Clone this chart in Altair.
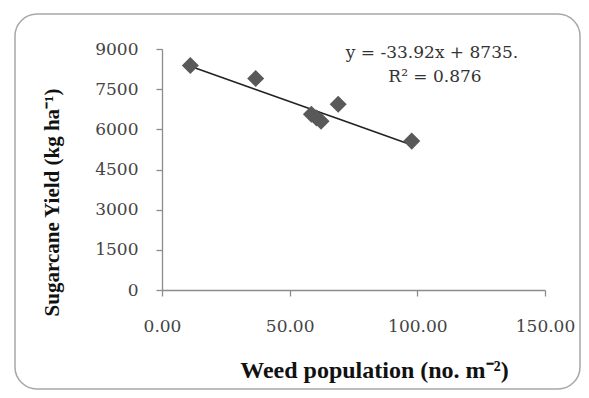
import altair as alt
import pandas as pd

# Data
weed = [11.1, 36.7, 58.5, 60.5, 62.3, 69.0, 97.8]
yield_kg = [8380, 7900, 6560, 6420, 6300, 6940, 5560]

slope = -33.92
intercept = 8735
r2 = 0.876

x_ticks = [0, 50, 100, 150]
y_ticks = [0, 1500, 3000, 4500, 6000, 7500, 9000]

df = pd.DataFrame({"weed": weed, "yield": yield_kg})

W, H = 383, 241
label_font = "DejaVu Serif"
title_font = "Liberation Serif"
axis_color = "#8c8c8c"

x_enc = alt.X(
    "weed:Q",
    scale=alt.Scale(domain=[0, 150], nice=False),
    axis=alt.Axis(
        values=x_ticks, format=".2f", grid=False, labelFlush=False,
        title="Weed population (no. m⁻²)",
        titleFont=title_font, titleFontSize=24, titleFontWeight="bold", titleColor="#111",
        titleX=212, titleY=80, titleAlign="center", titleBaseline="middle",
        labelFont=label_font, labelFontSize=17, labelColor="#444", labelPadding=22,
        domainColor=axis_color, tickColor=axis_color, tickSize=6, domainWidth=1.3, tickWidth=1.3,
    ),
)
y_enc = alt.Y(
    "yield:Q",
    scale=alt.Scale(domain=[0, 9000], nice=False),
    axis=alt.Axis(
        values=y_ticks, format="d", grid=False,
        title="Sugarcane Yield  (kg ha⁻¹)",
        titleFont=title_font, titleFontSize=21, titleFontWeight="bold", titleColor="#111",
        titleX=-110, titleY=153, titleAlign="center", titleBaseline="middle", titleAngle=-90,
        labelFont=label_font, labelFontSize=17, labelColor="#444", labelPadding=18,
        domainColor=axis_color, tickColor=axis_color, tickSize=6, domainWidth=1.3, tickWidth=1.3,
    ),
)

base = alt.Chart(df)

border = alt.Chart(pd.DataFrame({"k": [0]})).mark_rect(
    fill=None, stroke="#a8a8a8", strokeWidth=1.5, cornerRadius=22
).encode(
    x=alt.value(-147), x2=alt.value(418), y=alt.value(-35), y2=alt.value(340)
)

points = base.mark_point(
    shape="diamond", filled=True, size=290, color="#595959", opacity=1
).encode(x=x_enc, y=y_enc)

line = base.transform_calculate(
    fit=f"{slope}*datum.weed + {intercept}"
).mark_line(color="#222", strokeWidth=1.6).encode(
    x="weed:Q", y="fit:Q", order="weed:Q"
)

eq1 = alt.Chart(pd.DataFrame({"t": [f"y = {slope}x + {intercept}."]})).mark_text(
    font=label_font, fontSize=17, color="#333", align="center", baseline="middle"
).encode(text="t:N", x=alt.value(270), y=alt.value(4))

eq2 = alt.Chart(pd.DataFrame({"t": [f"R² = {r2}"]})).mark_text(
    font=label_font, fontSize=17, color="#333", align="center", baseline="middle"
).encode(text="t:N", x=alt.value(273), y=alt.value(28))

chart = alt.layer(border, line, points, eq1, eq2).properties(
    width=W, height=H,
    autosize=alt.AutoSizeParams(type="none"),
    padding={"left": 154, "top": 41, "right": 36, "bottom": 100},
    background="white",
).configure_view(stroke=None)

chart.save("out.html", embed_options={"renderer": "svg", "actions": False})
